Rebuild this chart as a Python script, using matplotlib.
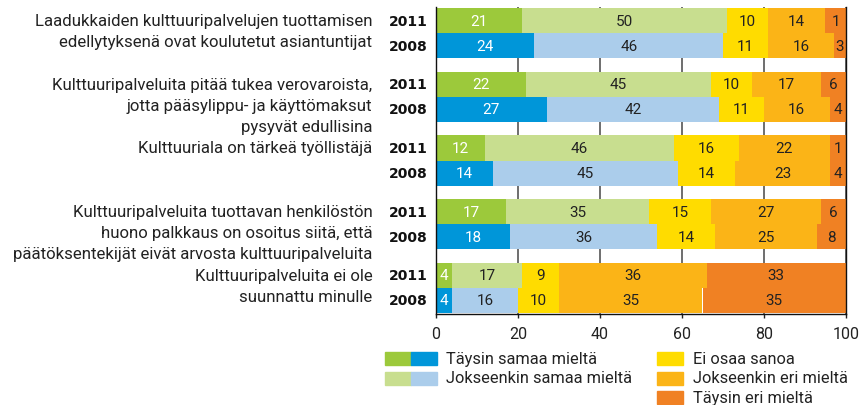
import matplotlib.pyplot as plt
from matplotlib.patches import Rectangle

# Data
statements = [
    'Laadukkaiden kulttuuripalvelujen tuottamisen\nedellytyksenä ovat koulutetut asiantuntijat',
    'Kulttuuripalveluita pitää tukea verovaroista,\njotta pääsylippu- ja käyttömaksut\npysyvät edullisina',
    'Kulttuuriala on tärkeä työllistäjä',
    'Kulttuuripalveluita tuottavan henkilöstön\nhuono palkkaus on osoitus siitä, että\npäätöksentekijät eivät arvosta kulttuuripalveluita',
    'Kulttuuripalveluita ei ole\nsuunnattu minulle',
]
years = ['2011', '2008']
categories = ['Täysin samaa mieltä', 'Jokseenkin samaa mieltä', 'Ei osaa sanoa',
              'Jokseenkin eri mieltä', 'Täysin eri mieltä']

# values per statement, each row in category order
vals_2011 = [
    [21, 50, 10, 14, 1],
    [22, 45, 10, 17, 6],
    [12, 46, 16, 22, 1],
    [17, 35, 15, 27, 6],
    [4, 17, 9, 36, 33],
]
vals_2008 = [
    [24, 46, 11, 16, 3],
    [27, 42, 11, 16, 4],
    [14, 45, 14, 23, 4],
    [18, 36, 14, 25, 8],
    [4, 16, 10, 35, 35],
]

colors_2011 = ['#9cc93b', '#c8de8f', '#ffdc00', '#fbb417', '#f08123']
colors_2008 = ['#0096d9', '#abcdeb', '#ffdc00', '#fbb417', '#f08123']
text_colors = ['white', '#222222', '#222222', '#222222', '#222222']

plt.rcParams['font.family'] = ['Roboto', 'DejaVu Sans']

fig = plt.figure(figsize=(8.62, 4.06), dpi=100)
ax = fig.add_axes([436 / 862, 1 - 315 / 406, 410 / 862, 307 / 406])

bar_h = 0.395
line_step = 0.33
for i in range(len(statements)):
    for row, (vals, cols) in enumerate([(vals_2011[i], colors_2011), (vals_2008[i], colors_2008)]):
        y = i + (-bar_h / 2 if row == 0 else bar_h / 2)
        left = 0
        for k, v in enumerate(vals):
            w = v if k < len(vals) - 1 else 100 - left
            ax.barh(y, w, left=left, height=bar_h, color=cols[k], edgecolor='none', zorder=2)
            ax.text(left + w / 2, y, str(v), ha='center', va='center',
                    fontsize=11, color=text_colors[k], zorder=3)
            left += w
        ax.text(-2, y, years[row], ha='right', va='center', fontsize=10,
                fontweight='bold', color='#111111', family=['DejaVu Sans'])
    for n, line in enumerate(statements[i].split('\n')):
        ax.text(-15.5, i - bar_h / 2 + n * line_step, line, ha='right', va='center',
                fontsize=12.1, color='#222222')

ax.set_xlim(0, 100)
ax.set_ylim(len(statements) - 1 + bar_h + 0.02, -bar_h - 0.02)
ax.set_xticks([0, 20, 40, 60, 80, 100])
ax.tick_params(axis='x', length=3, width=1, labelsize=11.5, pad=6, colors='#222222')
ax.set_yticks([])
ax.grid(axis='x', color='#555555', linewidth=1.2, zorder=0)
ax.set_axisbelow(True)
ax.spines['top'].set_visible(False)
for s in ['left', 'right', 'bottom']:
    ax.spines[s].set_color('#111111')
    ax.spines[s].set_linewidth(1)

# Legend drawn manually
def px(x, y):
    return x / 862, 1 - y / 406

legend_left = [(categories[0], colors_2011[0], colors_2008[0]),
               (categories[1], colors_2011[1], colors_2008[1])]
for j, (name, c1, c2) in enumerate(legend_left):
    ytop = 353 + j * 19.5
    for m, c in enumerate([c1, c2]):
        x0, y0 = px(385 + m * 26, ytop + 13)
        fig.patches.append(Rectangle((x0, y0), 26 / 862, 13 / 406, color=c,
                                     transform=fig.transFigure, figure=fig))
    tx, ty = px(446, ytop + 6.5)
    fig.text(tx, ty, name, ha='left', va='center', fontsize=11.8, color='#222222')

legend_right = [(categories[2], colors_2011[2]), (categories[3], colors_2011[3]),
                (categories[4], colors_2011[4])]
for j, (name, c) in enumerate(legend_right):
    ytop = 353 + j * 19.5
    x0, y0 = px(657, ytop + 13)
    fig.patches.append(Rectangle((x0, y0), 26 / 862, 13 / 406, color=c,
                                 transform=fig.transFigure, figure=fig))
    tx, ty = px(693, ytop + 6.5)
    fig.text(tx, ty, name, ha='left', va='center', fontsize=11.8, color='#222222')

fig.savefig('out.png', dpi=100)
